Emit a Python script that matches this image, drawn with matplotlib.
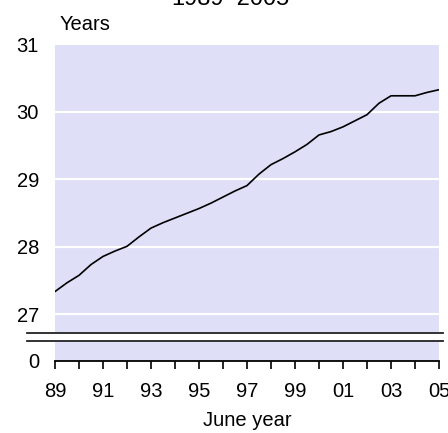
import matplotlib
matplotlib.use("Agg")
import matplotlib.pyplot as plt
from matplotlib.lines import Line2D

# ---- data ----
years = [1989.0, 1989.5, 1990.0, 1990.5, 1991.0, 1991.5, 1992.0, 1992.5,
         1993.0, 1993.5, 1994.0, 1994.5, 1995.0, 1995.5, 1996.0, 1996.5,
         1997.0, 1997.5, 1998.0, 1998.5, 1999.0, 1999.5, 2000.0, 2000.5,
         2001.0, 2001.5, 2002.0, 2002.5, 2003.0, 2003.5, 2004.0, 2004.5,
         2005.0]
age = [27.34, 27.47, 27.58, 27.74, 27.86, 27.94, 28.01, 28.15,
       28.28, 28.36, 28.43, 28.50, 28.57, 28.65, 28.74, 28.83,
       28.91, 29.08, 29.22, 29.31, 29.41, 29.52, 29.66, 29.71,
       29.78, 29.87, 29.96, 30.13, 30.24, 30.24, 30.24, 30.29,
       30.33]
xtick_years = list(range(1989, 2006))
xtick_labels = ['89', '', '91', '', '93', '', '95', '', '97', '', '99', '',
                '01', '', '03', '', '05']
ytick_vals = [27, 28, 29, 30, 31]
ytick_labels = ['27', '28', '29', '30', '31']

title = "1989\u20132005"
ylabel = "Years"
xlabel = "June year"

# ---- style ----
W, H, DPI = 448, 433, 100
bg = '#DFDFF7'
fs = 14.5
plt.rcParams['font.family'] = ['Liberation Sans', 'DejaVu Sans']

fig = plt.figure(figsize=(W / DPI, H / DPI), dpi=DPI)

def fx(px):
    return px / W

def fy(py):
    return 1 - py / H

left_px, right_px = 55, 439
top_px, up_bot_px = 44.5, 331.5
lo_top_px, lo_bot_px = 341.5, 361

ax = fig.add_axes([fx(left_px), fy(up_bot_px), fx(right_px - left_px),
                   (up_bot_px - top_px) / H])
ax.set_facecolor(bg)
ax.plot(years, age, color='black', lw=1.2)
ax.set_xlim(1989, 2005)
ybot = 31 - (up_bot_px - top_px) / 67.5
ax.set_ylim(ybot, 31)
ax.set_yticks(ytick_vals)
ax.set_yticklabels(ytick_labels, fontsize=fs)
ax.tick_params(axis='y', length=0, pad=11.5)
ax.set_xticks([])
for y in ytick_vals[:-1]:
    ax.axhline(y, color='white', lw=1.6, zorder=1)
for s in ax.spines.values():
    s.set_visible(False)

ax2 = fig.add_axes([fx(left_px), fy(lo_bot_px), fx(right_px - left_px),
                    (lo_bot_px - lo_top_px) / H])
ax2.set_facecolor(bg)
ax2.set_xlim(1989, 2005)
ax2.set_ylim(0, 1)
ax2.set_yticks([0])
ax2.set_yticklabels(['0'], fontsize=fs)
ax2.tick_params(axis='y', length=0, pad=11.5)
ax2.set_xticks(xtick_years)
ax2.set_xticklabels(xtick_labels, fontsize=fs)
ax2.tick_params(axis='x', length=6, width=1.2, pad=9, color='black')
for k in ['left', 'right', 'top']:
    ax2.spines[k].set_visible(False)
ax2.spines['bottom'].set_linewidth(1.3)
ax2.spines['bottom'].set_color('black')
ax2.set_xlabel(xlabel, fontsize=fs, labelpad=7)

# broken-axis marker lines
for py in (332.5, 340.5):
    fig.add_artist(Line2D([fx(27), fx(443)], [fy(py), fy(py)],
                          color='#222222', lw=1.3))

fig.text(fx(60), fy(24), ylabel, fontsize=fs, ha='left', va='center')
fig.text(fx(230), fy(5), title, fontsize=17, ha='center', va='baseline')

fig.savefig('out.png', dpi=DPI)
